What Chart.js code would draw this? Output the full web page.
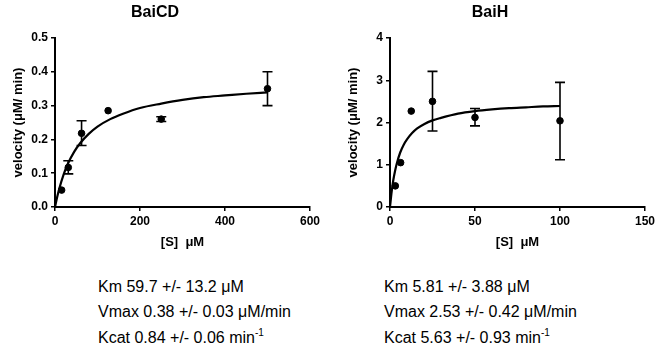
<!DOCTYPE html>
<html><head><meta charset="utf-8">
<script src="https://cdn.jsdelivr.net/npm/chart.js@4.4.1/dist/chart.umd.min.js"></script>
<style>
html,body{margin:0;padding:0;background:#fff;width:670px;height:355px;overflow:hidden;}
.c{position:absolute;top:0;}
.txt{position:absolute;font-family:"Liberation Sans",Arial,sans-serif;font-size:16px;color:#000;line-height:25.3px;}
sup{font-size:10px;vertical-align:7px;line-height:0;}
</style></head><body>
<div class="c" style="left:0;width:335px;height:250px;"><canvas id="c1" width="335" height="250"></canvas></div>
<div class="c" style="left:335px;width:335px;height:250px;"><canvas id="c2" width="335" height="250"></canvas></div>
<div class="txt" style="left:98px;top:274px;">Km 59.7 +/- 13.2 μM<br>Vmax 0.38 +/- 0.03 μM/min<br>Kcat 0.84 +/- 0.06 min<sup>-1</sup></div>
<div class="txt" style="left:384px;top:274px;">Km 5.81 +/- 3.88 μM<br>Vmax 2.53 +/- 0.42 μM/min<br>Kcat 5.63 +/- 0.93 min<sup>-1</sup></div>
<script>
// BaiCD data
const cdS = [15.6, 31.25, 62.5, 125, 250, 500];
const cdV = [0.050, 0.117, 0.218, 0.285, 0.260, 0.350];
const cdLo = [null, 0.098, 0.182, null, 0.253, 0.300];
const cdHi = [null, 0.137, 0.255, null, 0.267, 0.400];
const cdFitS = [0, 5, 10, 20, 30, 45, 60, 80, 100, 130, 160, 200, 250, 300, 350, 400, 450, 500];
const cdFitV = [0, 0.029, 0.054, 0.095, 0.127, 0.163, 0.190, 0.217, 0.238, 0.260, 0.276, 0.293, 0.306, 0.317, 0.325, 0.330, 0.335, 0.339];
const cdXTicks = [0, 200, 400, 600];
const cdYTicks = [0, 0.1, 0.2, 0.3, 0.4, 0.5];

// BaiH data
const hS = [3.125, 6.25, 12.5, 25, 50, 100];
const hV = [0.50, 1.05, 2.27, 2.50, 2.12, 2.04];
const hLo = [null, null, null, 1.80, 1.92, 1.12];
const hHi = [null, null, null, 3.21, 2.33, 2.95];
const hFitS = [0, 1, 2, 3, 4, 6, 8, 10, 13, 16, 20, 25, 30, 40, 50, 60, 70, 80, 90, 100];
const hFitV = [0, 0.37, 0.65, 0.86, 1.03, 1.29, 1.47, 1.60, 1.75, 1.86, 1.96, 2.05, 2.11, 2.21, 2.27, 2.31, 2.34, 2.36, 2.38, 2.39];
const hXTicks = [0, 50, 100, 150];
const hYTicks = [0, 1, 2, 3, 4];

const errPlugin = {
  id: 'err',
  afterDatasetsDraw(chart, args, opts) {
    const {ctx, scales: {x, y}} = chart;
    ctx.save();
    ctx.strokeStyle = '#000';
    ctx.lineWidth = 1.6;
    opts.xs.forEach((s, i) => {
      if (opts.lo[i] == null) return;
      const px = x.getPixelForValue(s);
      const p1 = y.getPixelForValue(opts.lo[i]);
      const p2 = y.getPixelForValue(opts.hi[i]);
      ctx.beginPath();
      ctx.moveTo(px, p1); ctx.lineTo(px, p2);
      ctx.moveTo(px - 5, p1); ctx.lineTo(px + 5, p1);
      ctx.moveTo(px - 5, p2); ctx.lineTo(px + 5, p2);
      ctx.stroke();
    });
    ctx.restore();
  }
};

const FONT = "'Liberation Sans', Arial, sans-serif";
function make(id, title, xs, vs, lo, hi, fs, fv, xt, yt, ydec) {
  const xmax = xt[xt.length - 1], ymax = yt[yt.length - 1];
  return new Chart(document.getElementById(id), {
    type: 'scatter',
    data: {
      datasets: [
        { data: fs.map((s, i) => ({x: s, y: fv[i]})), showLine: true, borderColor: '#000', borderWidth: 2.2, pointRadius: 0, cubicInterpolationMode: 'monotone', fill: false },
        { data: xs.map((s, i) => ({x: s, y: vs[i]})), showLine: false, backgroundColor: '#000', borderColor: '#000', pointRadius: 3.3, pointHoverRadius: 3.3 }
      ]
    },
    options: {
      responsive: false, animation: false, clip: false,
      layout: { padding: { left: 0, right: 25, top: 0, bottom: 0 } },
      plugins: {
        legend: { display: false }, tooltip: { enabled: false },
        title: { display: true, text: title, color: '#000', font: { family: FONT, size: 16, weight: 'bold' }, padding: { top: 3, bottom: 15.8 } },
        err: { xs: xs, lo: lo, hi: hi }
      },
      scales: {
        x: {
          type: 'linear', min: 0, max: xmax,
          afterBuildTicks: s => { s.ticks = xt.map(v => ({value: v})); },
          ticks: { color: '#000', font: { family: FONT, size: 12, weight: 'bold' }, padding: 3, maxRotation: 0, autoSkip: false },
          grid: { display: true, drawOnChartArea: false, drawTicks: true, tickLength: 4, color: '#000', lineWidth: 1.5 },
          border: { display: true, color: '#000', width: 2 },
          title: { display: true, text: '[S]  μM', color: '#000', font: { family: FONT, size: 13, weight: 'bold' }, padding: { top: 3, bottom: 0 } },
          afterFit: s => { s.height = 43; }
        },
        y: {
          type: 'linear', min: 0, max: ymax,
          afterBuildTicks: s => { s.ticks = yt.map(v => ({value: v})); },
          ticks: { color: '#000', font: { family: FONT, size: 12, weight: 'bold' }, padding: 3, callback: v => v.toFixed(ydec) },
          grid: { display: true, drawOnChartArea: false, drawTicks: true, tickLength: 4, color: '#000', lineWidth: 1.5 },
          border: { display: true, color: '#000', width: 2 },
          title: { display: true, text: 'velocity (μM/ min)', color: '#000', font: { family: FONT, size: 13, weight: 'bold' }, padding: { top: 11, bottom: 0 } },
          afterFit: s => { s.width = 55; }
        }
      }
    },
    plugins: [errPlugin]
  });
}
make('c1', 'BaiCD', cdS, cdV, cdLo, cdHi, cdFitS, cdFitV, cdXTicks, cdYTicks, 1);
make('c2', 'BaiH', hS, hV, hLo, hHi, hFitS, hFitV, hXTicks, hYTicks, 0);
</script>
</body></html>
